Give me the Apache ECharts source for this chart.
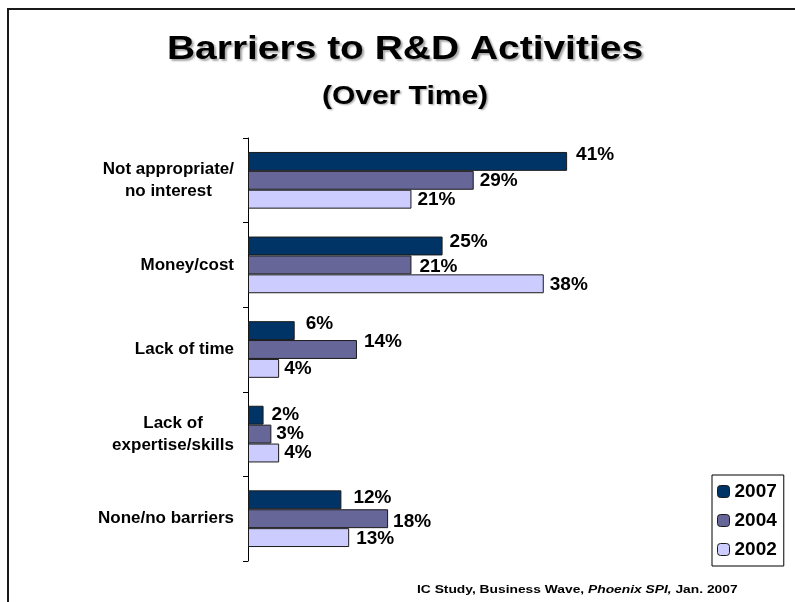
<!DOCTYPE html>
<html>
<head>
<meta charset="utf-8">
<style>
  html, body { margin: 0; padding: 0; background: #fff; }
  #chart { width: 795px; height: 602px; }
</style>
<script src="https://cdn.jsdelivr.net/npm/echarts@6/dist/echarts.min.js"></script>
</head>
<body>
<div id="chart"></div>
<script>
// Barrier categories, top to bottom
const categories = [
  'Not appropriate/\nno interest',
  'Money/cost',
  'Lack of time',
  'Lack of\nexpertise/skills',
  'None/no barriers'
];

// Survey years shown in the legend
const years = ['2007', '2004', '2002'];

// Share of respondents (%) per barrier, one array per year
const values2007 = [41, 25, 6, 2, 12];
const values2004 = [29, 21, 14, 3, 18];
const values2002 = [21, 38, 4, 4, 13];

const seriesValues = [values2007, values2004, values2002];
const seriesColors = ['#003366', '#666699', '#ccccff'];

// Small hand placement tweaks for the value labels [dx, dy], per year and barrier
const labelNudges = [
  [[4, -7], [2, -4], [6, -7], [3, 0], [7, -2]],
  [[1, 0], [3, 2], [2, -8], [0, 0], [0, 3]],
  [[1, 1], [1, 1], [0, 0], [0, 0], [2, 1]]
];

const FONT = '"Liberation Sans", Arial, Helvetica, sans-serif';

const chart = echarts.init(document.getElementById('chart'), null, { renderer: 'canvas' });

function headingText(text, y, size, stretch, shadow) {
  return {
    type: 'text',
    silent: true,
    x: 405,
    y: y,
    scaleX: stretch,
    z: 50,
    style: {
      text: text,
      x: 0,
      y: 0,
      align: 'center',
      verticalAlign: 'middle',
      fontFamily: FONT,
      fontSize: size,
      fontWeight: 'bold',
      fill: '#000',
      textShadowColor: 'rgba(0,0,0,0.35)',
      textShadowBlur: 2,
      textShadowOffsetX: shadow,
      textShadowOffsetY: shadow
    }
  };
}

const option = {
  backgroundColor: '#ffffff',
  animation: false,
  legend: {
    orient: 'vertical',
    left: 712,
    top: 475,
    data: years,
    itemWidth: 12,
    itemHeight: 12,
    itemGap: 10,
    itemStyle: { borderColor: '#1a1a1a', borderWidth: 1 },
    padding: [7, 7, 7, 5],
    borderColor: '#000',
    borderWidth: 1,
    backgroundColor: '#fff',
    textStyle: {
      fontFamily: FONT,
      fontSize: 19,
      fontWeight: 'bold',
      color: '#000'
    }
  },
  grid: {
    left: 248,
    right: 80,
    top: 138,
    bottom: 41,
    containLabel: false
  },
  xAxis: {
    type: 'value',
    min: 0,
    max: 60,
    show: false
  },
  yAxis: {
    type: 'category',
    data: categories,
    inverse: true,
    axisLine: { show: true, lineStyle: { color: '#000', width: 1 } },
    axisTick: { show: true, length: 5, lineStyle: { color: '#000', width: 1 } },
    axisLabel: {
      margin: 14,
      color: '#000',
      fontFamily: FONT,
      fontSize: 17,
      fontWeight: 'bold',
      lineHeight: 22,
      formatter: function (val) {
        return val.split('\n').map(function (line) { return '{c|' + line + '}'; }).join('\n');
      },
      rich: {
        c: {
          align: 'center',
          fontFamily: FONT,
          fontSize: 17,
          fontWeight: 'bold',
          color: '#000',
          lineHeight: 22
        }
      }
    },
    splitLine: { show: false }
  },
  series: years.map(function (year, i) {
    return {
      name: year,
      type: 'bar',
      data: seriesValues[i].map(function (v, j) {
        return { value: v, label: { offset: labelNudges[i][j] } };
      }),
      barGap: '0%',
      barCategoryGap: '33%',
      itemStyle: {
        color: seriesColors[i],
        borderColor: '#1a1a1a',
        borderWidth: 1
      },
      label: {
        show: true,
        position: 'right',
        distance: 5,
        formatter: '{c}%',
        fontFamily: FONT,
        fontSize: 19,
        fontWeight: 'bold',
        color: '#000'
      }
    };
  }),
  graphic: [
    {
      type: 'rect',
      silent: true,
      z: 100,
      shape: { x: 8, y: 9, width: 800, height: 600 },
      style: { fill: 'none', stroke: '#1a1a1a', lineWidth: 2 }
    },
    headingText('Barriers to R&D Activities', 50, 33, 1.18, 2),
    headingText('(Over Time)', 97, 25, 1.2, 1.5),
    {
      type: 'text',
      silent: true,
      x: 417,
      y: 590,
      scaleX: 1.2,
      style: {
        text: '{a|IC Study, Business Wave, }{b|Phoenix SPI,}{a| Jan. 2007}',
        x: 0,
        y: 0,
        align: 'left',
        verticalAlign: 'middle',
        rich: {
          a: { fontFamily: FONT, fontSize: 11.5, fontWeight: 'bold', fill: '#000' },
          b: { fontFamily: FONT, fontSize: 11.5, fontWeight: 'bold', fontStyle: 'italic', fill: '#000' }
        }
      }
    }
  ]
};

chart.setOption(option);
</script>
</body>
</html>
